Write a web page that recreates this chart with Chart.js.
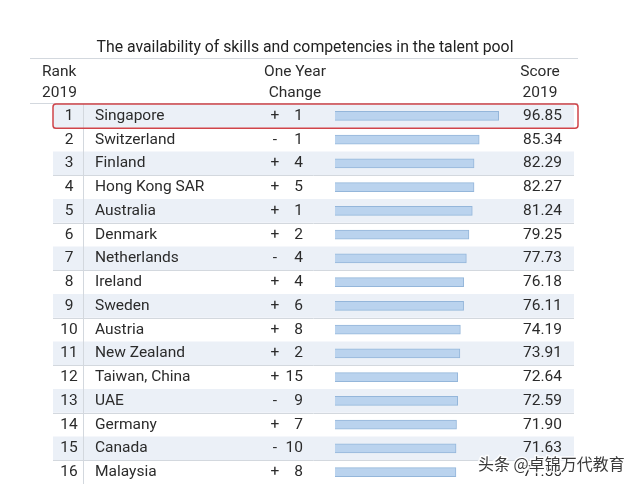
<!DOCTYPE html>
<html>
<head>
<meta charset="utf-8">
<script src="https://cdn.jsdelivr.net/npm/chart.js@4"></script>
<style>
  body { margin: 0; background: #fff; }
  #talentChart { display: block; }
</style>
</head>
<body>
<canvas id="talentChart" width="640" height="484"></canvas>
<script>
// Talent pool table data
var ranks = [1, 2, 3, 4, 5, 6, 7, 8, 9, 10, 11, 12, 13, 14, 15, 16];
var countries = ['Singapore', 'Switzerland', 'Finland', 'Hong Kong SAR', 'Australia', 'Denmark',
    'Netherlands', 'Ireland', 'Sweden', 'Austria', 'New Zealand', 'Taiwan, China', 'UAE',
    'Germany', 'Canada', 'Malaysia'];
var changes = [1, -1, 4, 5, 1, 2, -4, 4, 6, 8, 2, 15, -9, 7, -10, 8];
var scores = [96.85, 85.34, 82.29, 82.27, 81.24, 79.25, 77.73, 76.18, 76.11, 74.19, 73.91,
    72.64, 72.59, 71.90, 71.63, 71.56];

var FONT = 'Roboto, "Noto Sans", sans-serif';
var TEXT = '#2b2b2b';

// draws rows, header and text around the bars
var tablePlugin = {
    id: 'tablePlugin',
    beforeDatasetsDraw: function (chart) {
        var ctx = chart.ctx;
        var y = chart.scales.y;
        var rowH = y.getPixelForTick(1) - y.getPixelForTick(0);
        ctx.save();
        for (var i = 0; i < countries.length; i++) {
            var top = y.getPixelForTick(i) - rowH / 2;
            if (i % 2 === 0) {
                ctx.fillStyle = '#ebf0f7';
                ctx.fillRect(53, top, 521, rowH);
            }
            ctx.strokeStyle = '#d3d8de';
            ctx.lineWidth = 1;
            ctx.beginPath();
            ctx.moveTo(53, Math.round(top + rowH) + 0.5);
            ctx.lineTo(574, Math.round(top + rowH) + 0.5);
            ctx.stroke();
        }
        // vertical separator after rank column
        ctx.strokeStyle = '#d3d8de';
        ctx.beginPath();
        ctx.moveTo(83.5, chart.chartArea.top);
        ctx.lineTo(83.5, chart.chartArea.bottom);
        ctx.stroke();
        ctx.restore();
    },
    afterDraw: function (chart) {
        var ctx = chart.ctx;
        var y = chart.scales.y;
        var rowH = y.getPixelForTick(1) - y.getPixelForTick(0);
        ctx.save();
        ctx.textBaseline = 'middle';

        // title
        ctx.fillStyle = '#222';
        ctx.font = '15.8px ' + FONT;
        ctx.textAlign = 'center';
        ctx.fillText('The availability of skills and competencies in the talent pool', 305, 48);

        ctx.strokeStyle = '#d3d8de';
        ctx.lineWidth = 1;
        ctx.beginPath();
        ctx.moveTo(30, 58.5);
        ctx.lineTo(578, 58.5);
        ctx.moveTo(30, 103.5);
        ctx.lineTo(578, 103.5);
        ctx.stroke();

        // header
        ctx.fillStyle = TEXT;
        ctx.font = '15.5px ' + FONT;
        ctx.textAlign = 'left';
        ctx.fillText('Rank', 42, 72);
        ctx.fillText('2019', 42, 93);
        ctx.textAlign = 'center';
        ctx.fillText('One Year', 295, 72);
        ctx.fillText('Change', 295, 93);
        ctx.fillText('Score', 540, 72);
        ctx.fillText('2019', 540, 93);

        // rows
        for (var i = 0; i < countries.length; i++) {
            var cy = y.getPixelForTick(i);
            ctx.textAlign = 'center';
            ctx.fillText(String(ranks[i]), 69, cy);
            ctx.textAlign = 'left';
            ctx.fillText(countries[i], 95, cy);
            ctx.textAlign = 'center';
            ctx.fillText(changes[i] < 0 ? '-' : '+', 275, cy);
            ctx.textAlign = 'right';
            ctx.fillText(String(Math.abs(changes[i])), 303, cy);
            ctx.fillText(scores[i].toFixed(2), 562, cy);
        }

        // highlight around first row
        var t0 = y.getPixelForTick(0) - rowH / 2;
        ctx.strokeStyle = '#d0444a';
        ctx.lineWidth = 1.5;
        ctx.beginPath();
        ctx.roundRect(53, t0, 525, rowH + 0.5, 3);
        ctx.stroke();

        // watermark
        ctx.font = '16px "Noto Sans CJK SC", sans-serif';
        ctx.textAlign = 'left';
        ctx.lineWidth = 3;
        ctx.strokeStyle = 'rgba(255,255,255,0.85)';
        ctx.strokeText('头条 @卓锦万代教育', 478, 464);
        ctx.fillStyle = '#3a3a3a';
        ctx.fillText('头条 @卓锦万代教育', 478, 464);
        ctx.restore();
    }
};

var talentCtx = document.getElementById('talentChart').getContext('2d');
var talentChart = new Chart(talentCtx, {
    type: 'bar',
    data: {
        labels: countries,
        datasets: [{
            data: scores,
            backgroundColor: '#bad3ee',
            borderColor: '#94b6da',
            borderWidth: 1,
            barThickness: 9
        }]
    },
    plugins: [tablePlugin],
    options: {
        indexAxis: 'y',
        responsive: false,
        animation: false,
        devicePixelRatio: 1,
        layout: {
            padding: { left: 335, right: 136, top: 104, bottom: 0 }
        },
        plugins: {
            legend: { display: false },
            tooltip: { enabled: false }
        },
        scales: {
            x: { display: false, min: 0, max: 100 },
            y: { display: false }
        }
    }
});
</script>
</body>
</html>
